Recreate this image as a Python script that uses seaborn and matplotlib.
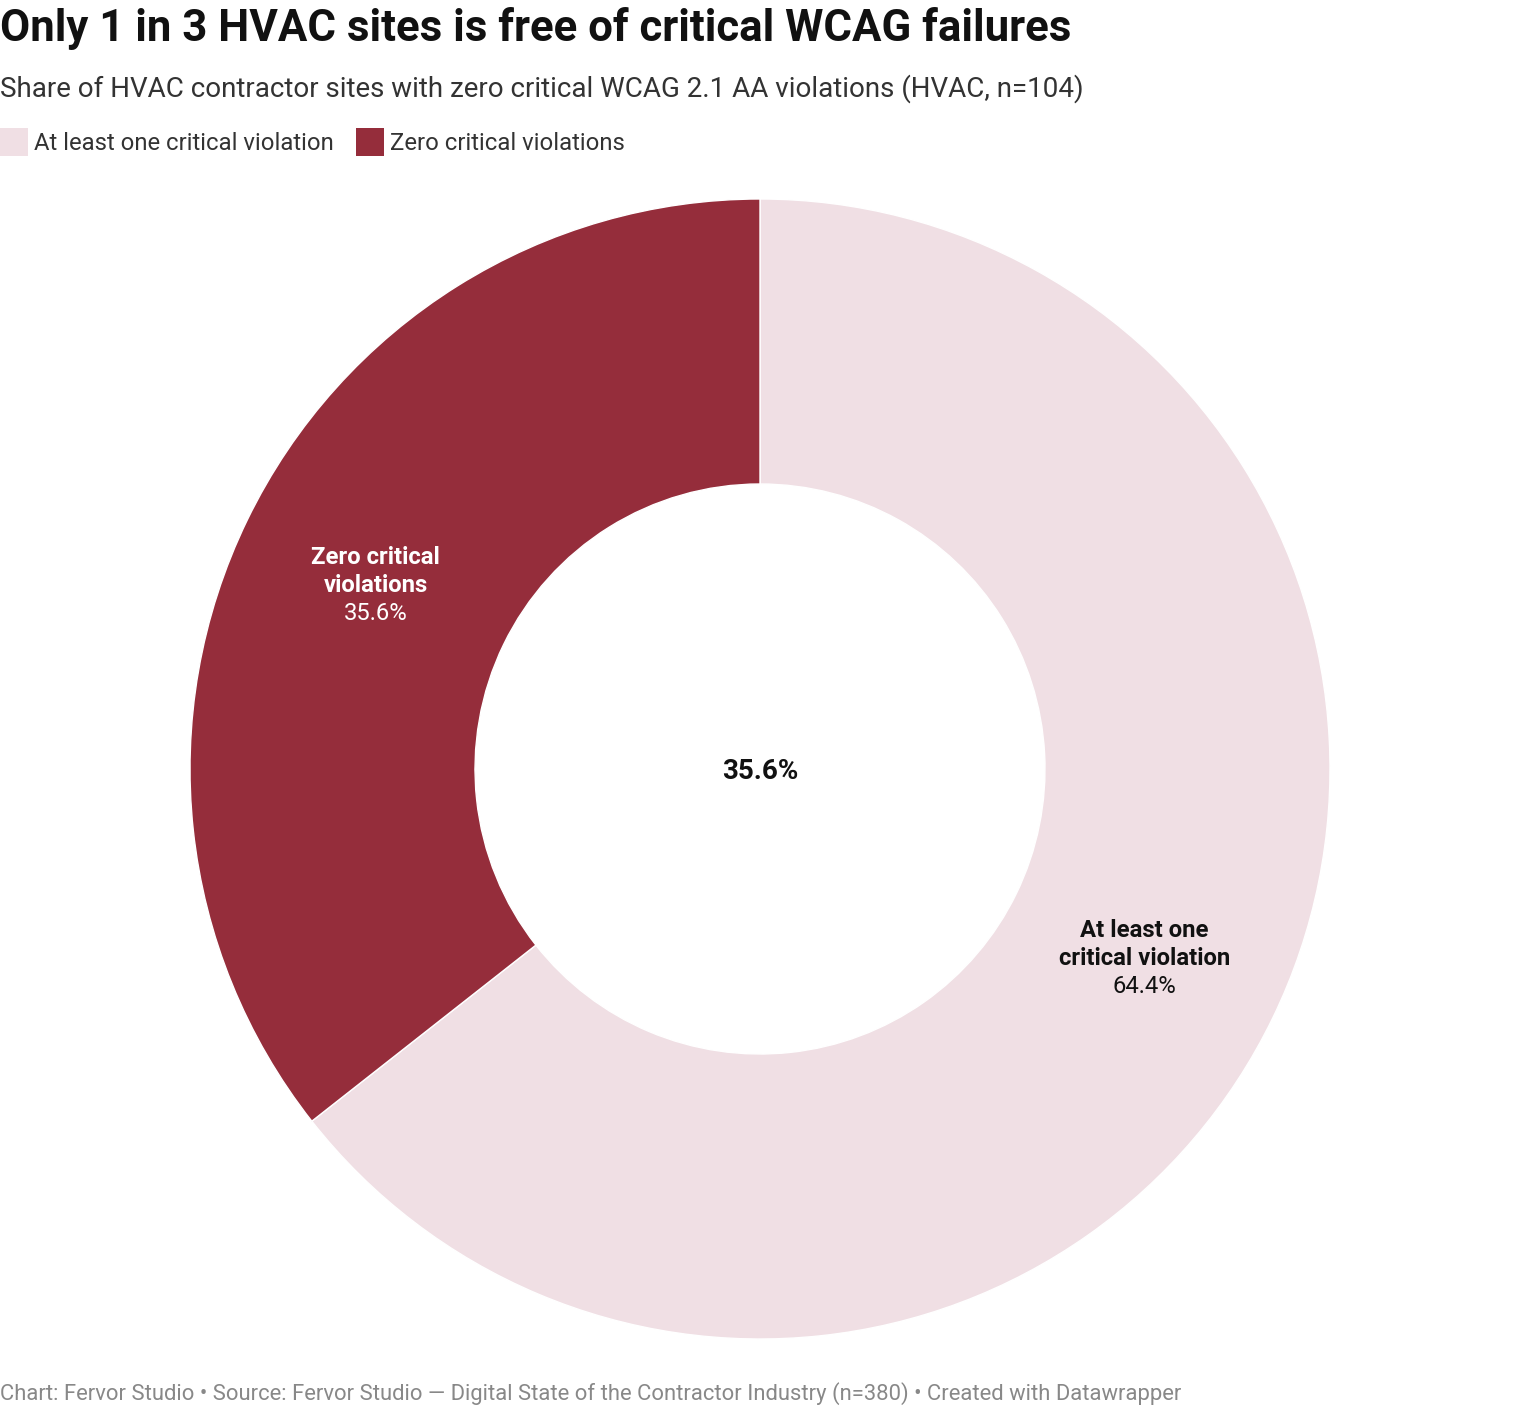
import matplotlib.pyplot as plt
import seaborn as sns
import numpy as np
from matplotlib.patches import Rectangle

# data
categorias = ["At least one critical violation", "Zero critical violations"]
rotulos = [["At least one", "critical violation"], ["Zero critical", "violations"]]
valores = [64.4, 35.6]
cores = ["#f0dfe4", "#952d3b"]
cores_texto = ["#111111", "#ffffff"]
destaque = "35.6%"

titulo = "Only 1 in 3 HVAC sites is free of critical WCAG failures"
subtitulo = "Share of HVAC contractor sites with zero critical WCAG 2.1 AA violations (HVAC, n=104)"
rodape = ("Chart: Fervor Studio \u2022 Source: Fervor Studio \u2014 Digital State of the "
          "Contractor Industry (n=380) \u2022 Created with Datawrapper")

sns.set_theme(style="white")
plt.rcParams["font.family"] = ["Roboto", "DejaVu Sans"]

W, H = 1520, 1406
fig = plt.figure(figsize=(W / 100, H / 100), dpi=100)
fig.patch.set_facecolor("white")

# donut axes: centre (760, 769), radius 570 px
cx, cy, r = 760, 769, 570
ax = fig.add_axes([(cx - r) / W, (H - cy - r) / H, 2 * r / W, 2 * r / H])
wedges, _ = ax.pie(valores, colors=cores, startangle=90, counterclock=False,
                   radius=1.0, wedgeprops=dict(width=0.5, edgecolor="white", linewidth=1))
ax.set_xlim(-1, 1)
ax.set_ylim(-1, 1)
ax.set_aspect("equal")
ax.axis("off")

passo = 28 / r  # line step in data units
desl = 3 / r    # small downward nudge
for w, rot, val, ct in zip(wedges, rotulos, valores, cores_texto):
    ang = np.deg2rad((w.theta1 + w.theta2) / 2)
    x, y = 0.75 * np.cos(ang), 0.75 * np.sin(ang) - desl
    ax.text(x, y + passo, rot[0], ha="center", va="center", fontsize=17.2,
            fontweight="bold", color=ct)
    ax.text(x, y, rot[1], ha="center", va="center", fontsize=17.2,
            fontweight="bold", color=ct)
    ax.text(x, y - passo, f"{val:.1f}%", ha="center", va="center", fontsize=17.2,
            color=ct)

ax.text(0, -desl, destaque, ha="center", va="center", fontsize=20,
        fontweight="bold", color="#111111")

# header
fig.text(0.0, 1 - 29 / H, titulo, ha="left", va="center", fontsize=31.5,
         fontweight="bold", color="#111111")
fig.text(0.0, 1 - 89 / H, subtitulo, ha="left", va="center", fontsize=20,
         color="#333333")

# legend
lx = [0, 356]
for x0, cat, cor in zip(lx, categorias, cores):
    fig.patches.append(Rectangle((x0 / W, 1 - 156 / H), 28 / W, 28 / H,
                                 transform=fig.transFigure, facecolor=cor,
                                 edgecolor="none"))
    fig.text((x0 + 34) / W, 1 - 144 / H, cat, ha="left", va="center",
             fontsize=17.2, color="#333333")

fig.text(0.0, 1 - 1394 / H, rodape, ha="left", va="center", fontsize=15.8,
         color="#888888")

fig.savefig("out.png", dpi=100, facecolor="white")
